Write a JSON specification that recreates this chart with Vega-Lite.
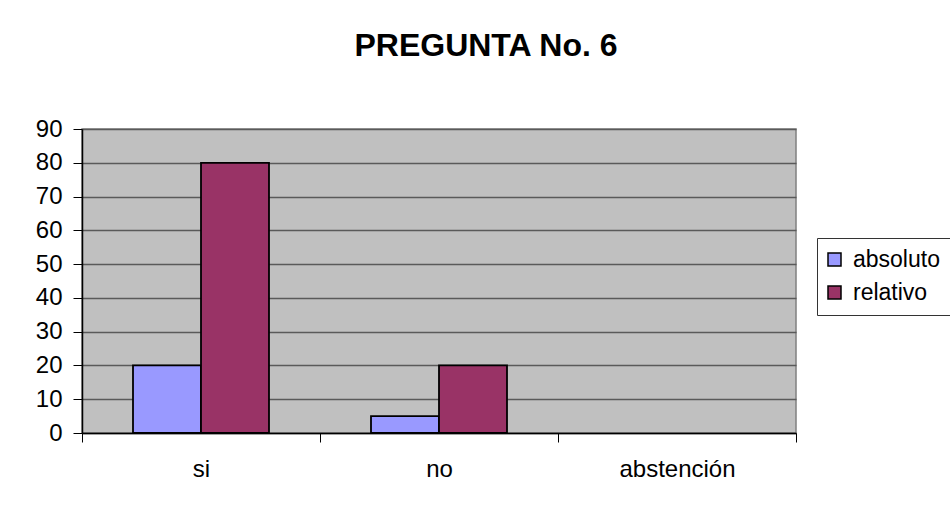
{
  "$schema": "https://vega.github.io/schema/vega-lite/v6.json",
  "autosize": {"type": "none"},
  "padding": {"left": 82, "top": 129, "right": 154, "bottom": 77},
  "width": 714,
  "height": 304,
  "background": "white",
  "title": {
    "text": "PREGUNTA No. 6",
    "font": "Liberation Sans",
    "fontSize": 32,
    "fontWeight": "bold",
    "color": "black",
    "anchor": "middle",
    "dx": 47,
    "offset": 54
  },
  "data": {
    "values": [
      {"respuesta": "si", "serie": "absoluto", "valor": 20},
      {"respuesta": "si", "serie": "relativo", "valor": 80},
      {"respuesta": "no", "serie": "absoluto", "valor": 5},
      {"respuesta": "no", "serie": "relativo", "valor": 20}
    ]
  },
  "mark": {"type": "bar", "stroke": "black", "strokeWidth": 1.8},
  "encoding": {
    "x": {
      "field": "respuesta",
      "type": "nominal",
      "sort": ["si", "no", "abstención"],
      "scale": {"domain": ["si", "no", "abstención"], "paddingInner": 0, "paddingOuter": 0},
      "axis": {
        "title": null,
        "labelAngle": 0,
        "tickBand": "extent",
        "tickSize": 9,
        "tickColor": "black",
        "tickWidth": 1,
        "domainColor": "black",
        "domainWidth": 1.5,
        "labelPadding": 15,
        "labelFont": "Liberation Sans",
        "labelFontSize": 24,
        "labelColor": "black",
        "grid": false
      }
    },
    "xOffset": {
      "field": "serie",
      "type": "nominal",
      "sort": ["absoluto", "relativo"],
      "scale": {"paddingInner": 0, "paddingOuter": 0.75}
    },
    "y": {
      "field": "valor",
      "type": "quantitative",
      "scale": {"domain": [0, 90], "nice": false},
      "axis": {
        "title": null,
        "values": [0, 10, 20, 30, 40, 50, 60, 70, 80, 90],
        "tickSize": 9,
        "tickColor": "black",
        "domainColor": "black",
        "domainWidth": 1.5,
        "labelPadding": 11,
        "labelFont": "Liberation Sans",
        "labelFontSize": 24,
        "labelColor": "black",
        "grid": true,
        "gridColor": "#5a5a5a",
        "gridWidth": 1.5
      }
    },
    "color": {
      "field": "serie",
      "type": "nominal",
      "sort": ["absoluto", "relativo"],
      "scale": {"domain": ["absoluto", "relativo"], "range": ["#9999FF", "#993366"]},
      "legend": {
        "title": null,
        "orient": "none",
        "legendX": 735,
        "legendY": 109,
        "symbolType": "square",
        "symbolSize": 169,
        "symbolOffset": -4,
        "symbolStrokeColor": "black",
        "symbolStrokeWidth": 1.5,
        "symbolOpacity": 1,
        "labelFont": "Liberation Sans",
        "labelFontSize": 23,
        "labelColor": "black",
        "labelOffset": 7,
        "rowPadding": 9,
        "padding": 10,
        "strokeColor": "#333333",
        "fillColor": "white"
      }
    }
  },
  "config": {
    "view": {"fill": "#C0C0C0", "stroke": "#808080", "strokeWidth": 1.5}
  }
}
